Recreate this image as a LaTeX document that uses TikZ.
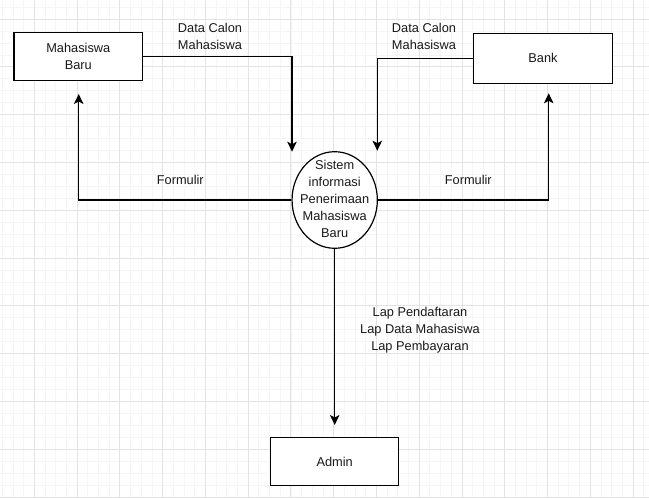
\documentclass[tikz,border=0pt]{standalone}
\usepackage{fontspec}
\setmainfont{Liberation Sans}
\usetikzlibrary{arrows.meta,shapes.geometric}
\begin{document}
\begin{tikzpicture}[x=1pt,y=-1pt,
  lbl/.style={font=\fontsize{12.8}{17}\selectfont, align=center, inner sep=0pt, text=black!90},
  box/.style={draw, line width=1.2pt, inner sep=0pt, font=\fontsize{12.8}{17}\selectfont, align=center, text=black!90},
  circ/.style={draw, ellipse, line width=1.2pt, inner sep=0pt, minimum width=85.3pt, minimum height=96.6pt},
  flow/.style={line width=1.3pt, -{Stealth[length=10pt,width=9.5pt,inset=2.5pt]}},
  minorgrid/.style={line width=0.7pt, black!4},
  majorgrid/.style={line width=0.8pt, black!11}
  ]
\useasboundingbox (0,0) rectangle (649,498);
\fill[white] (0,0) rectangle (649,498);
% grid
\foreach \i in {0,...,60} \draw[minorgrid] ({2.23+\i*10.69},0) -- ({2.23+\i*10.69},498);
\foreach \j in {0,...,41} \draw[minorgrid] (0,{7.05+\j*11.95}) -- (649,{7.05+\j*11.95});
\foreach \i in {0,...,15} \draw[majorgrid] ({-8.46+\i*42.76},0) -- ({-8.46+\i*42.76},498);
\foreach \j in {0,...,10} \draw[majorgrid] (0,{19+\j*47.8}) -- (649,{19+\j*47.8});

% nodes
\node[box, fill=white, minimum width=128.7pt, minimum height=48pt] (mb) at (78.3,56.7) {Mahasiswa\\Baru};
\node[box, fill=white, minimum width=139.4pt, minimum height=50pt] (bank) at (543,58.3) {Bank};
\node[box, fill=white, minimum width=128pt, minimum height=48pt] (admin) at (334.7,461.7) {Admin};
\node[circ, fill=white] (sis) at (334.7,200) {};
\node[lbl] (sistxt) at (334.7,199) {Sistem\\informasi\\Penerimaan\\Mahasiswa\\Baru};

% free ends
\coordinate (t1) at (292,151.7);
\coordinate (t2) at (377.3,150.7);
\coordinate (t3) at (78.7,94);
\coordinate (t4) at (548.7,93.3);
\coordinate (t5) at (334.7,425);

% connectors
\draw[flow] (mb.east) -| (t1);
\draw[flow] (bank.west) -| (t2);
\draw[flow] (sis.west) -| (t3);
\draw[flow] (sis.east) -| (t4);
\draw[flow] (sis.south) -- (t5);

% labels
\node[lbl] (l1) at (210,36) {Data Calon\\Mahasiswa};
\node[lbl] (l2) at (424,36) {Data Calon\\Mahasiswa};
\node[lbl] (l3) at (180.3,180) {Formulir};
\node[lbl] (l4) at (468.3,180) {Formulir};
\node[lbl] (l5) at (420,330.3) {Lap Pendaftaran\\Lap Data Mahasiswa\\Lap Pembayaran};
\end{tikzpicture}
\end{document}
